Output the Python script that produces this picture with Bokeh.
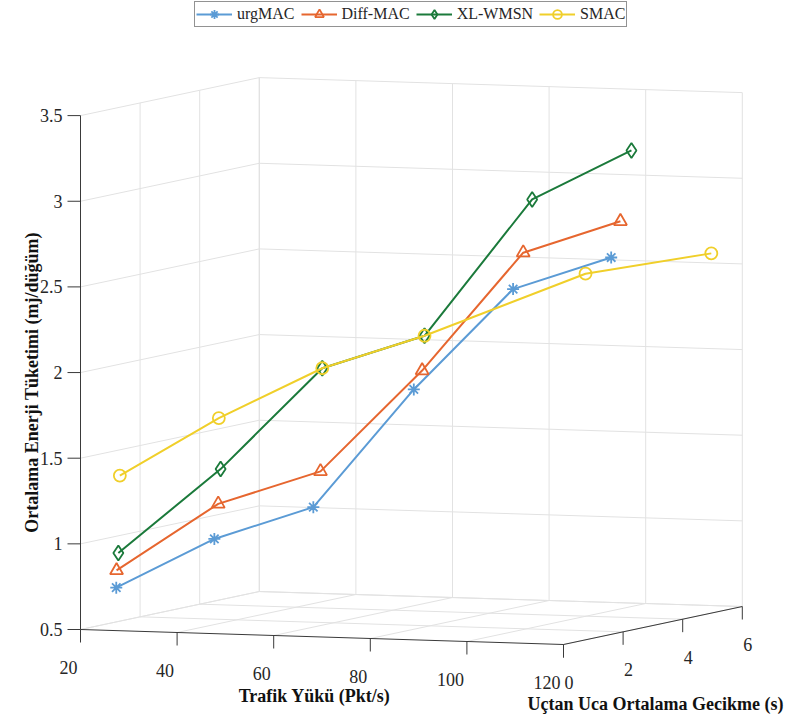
import numpy as np
from bokeh.plotting import figure
from bokeh.models import Range1d, Legend, LegendItem
from bokeh.embed import file_html
from bokeh.resources import INLINE
from bokeh.core.properties import value

# ---------------- data ----------------
series_names = ["urgMAC", "Diff-MAC", "XL-WMSN", "SMAC"]
traffic_load = [20, 40, 60, 80, 100, 120]          # Trafik Yükü (Pkt/s)

delay_urgmac = [1.20, 1.25, 1.33, 1.46, 1.55, 1.60]  # Uçtan Uca Ortalama Gecikme (s)
energy_urgmac = [0.70, 1.00, 1.20, 1.90, 2.50, 2.70]  # Ortalama Enerji Tüketimi (mj/düğüm)

delay_diffmac = [1.21, 1.38, 1.57, 1.74, 1.89, 1.91]
energy_diffmac = [0.80, 1.20, 1.40, 2.00, 2.70, 2.90]

delay_xlwmsn = [1.27, 1.46, 1.63, 1.82, 2.19, 2.28]
energy_xlwmsn = [0.90, 1.40, 2.00, 2.20, 3.00, 3.30]

delay_smac = [1.32, 1.40, 1.63, 1.82, 3.98, 4.96]
energy_smac = [1.35, 1.70, 2.00, 2.20, 2.50, 2.60]

x_ticks = [20, 40, 60, 80, 100, 120]
x_tick_labels = ["20", "40", "60", "80", "100", "120"]
y_ticks = [0, 2, 4, 6]
y_tick_labels = ["0", "2", "4", "6"]
z_ticks = [0.5, 1, 1.5, 2, 2.5, 3, 3.5]
z_tick_labels = ["0.5", "1", "1.5", "2", "2.5", "3", "3.5"]

x_title = "Trafik Yükü (Pkt/s)"
y_title = "Uçtan Uca Ortalama Gecikme (s)"
z_title = "Ortalama Enerji Tüketimi (mj/düğüm)"

# ---------------- styling / view ----------------
colors = ["#5B9BD5", "#E6662F", "#1B7A3B", "#F0CF2A"]
markers = ["asterisk", "triangle", "diamond", "circle"]
msizes = [12, 13, 15, 12]
FONT = "Liberation Serif"
GRID_C = "#e2e2e2"
AXIS_C = "#3a3a3a"
TEXT_C = "#262626"

PAGE_W, PAGE_H = 790, 717
ORIGIN = (80.0, 629.0)      # page px of the corner (xmin, ymin, zmin)
EX = (4.83, 0.15)           # page px per unit of x
EY = (29.8, -6.33)          # page px per unit of y
EZ = (0.0, -171.3)          # page px per unit of z
XMIN, YMIN, ZMIN = x_ticks[0], y_ticks[0], z_ticks[0]
XMAX, YMAX, ZMAX = x_ticks[-1], y_ticks[-1], z_ticks[-1]


def proj(x, y, z):
    x = np.asarray(x, float) - XMIN
    y = np.asarray(y, float) - YMIN
    z = np.asarray(z, float) - ZMIN
    px = ORIGIN[0] + EX[0] * x + EY[0] * y + EZ[0] * z
    py = ORIGIN[1] + EX[1] * x + EY[1] * y + EZ[1] * z
    return px, PAGE_H - py


p = figure(width=PAGE_W, height=PAGE_H, x_range=Range1d(0, PAGE_W), y_range=Range1d(0, PAGE_H),
           output_backend="svg", toolbar_location=None,
           x_axis_location=None, y_axis_location=None, min_border=0,
           outline_line_color=None, background_fill_color="white",
           border_fill_color="white")
p.grid.visible = False

# ---------------- grid ----------------
gx, gy = [], []


def seg(a, b):
    x0, y0 = proj(*a)
    x1, y1 = proj(*b)
    gx.append([float(x0), float(x1)])
    gy.append([float(y0), float(y1)])


for z in z_ticks:
    seg((XMIN, YMIN, z), (XMIN, YMAX, z))      # left wall
    seg((XMIN, YMAX, z), (XMAX, YMAX, z))      # back wall
for y in y_ticks[1:]:
    seg((XMIN, y, ZMIN), (XMIN, y, ZMAX))      # left wall verticals
    seg((XMIN, y, ZMIN), (XMAX, y, ZMIN))      # floor
for x in x_ticks:
    seg((x, YMAX, ZMIN), (x, YMAX, ZMAX))      # back wall verticals
    seg((x, YMIN, ZMIN), (x, YMAX, ZMIN))      # floor

p.multi_line(gx, gy, line_color=GRID_C, line_width=1)

# ---------------- axes ----------------
ax_x, ax_y = [], []
for a, b in [((XMIN, YMIN, ZMIN), (XMAX, YMIN, ZMIN)),
             ((XMAX, YMIN, ZMIN), (XMAX, YMAX, ZMIN)),
             ((XMIN, YMIN, ZMIN), (XMIN, YMIN, ZMAX))]:
    x0, y0 = proj(*a)
    x1, y1 = proj(*b)
    ax_x.append([float(x0), float(x1)])
    ax_y.append([float(y0), float(y1)])
p.multi_line(ax_x, ax_y, line_color=AXIS_C, line_width=1)

TICK = 13
# x ticks (pointing down)
txx, txy = proj(x_ticks, [YMIN] * len(x_ticks), [ZMIN] * len(x_ticks))
p.segment(txx, txy, txx, txy - TICK, line_color=AXIS_C, line_width=1)
p.text(txx - 3, txy - 38, text=x_tick_labels, text_font=value(FONT), text_font_size="18px",
       text_color=TEXT_C, text_align="right", text_baseline="alphabetic")
# y ticks
tyx, tyy = proj([XMAX] * len(y_ticks), y_ticks, [ZMIN] * len(y_ticks))
p.segment(tyx, tyy, tyx, tyy - TICK, line_color=AXIS_C, line_width=1)
p.text(tyx + 1, tyy - 38, text=y_tick_labels, text_font=value(FONT), text_font_size="18px",
       text_color=TEXT_C, text_align="left", text_baseline="alphabetic")
# z ticks (pointing left)
tzx, tzy = proj([XMIN] * len(z_ticks), [YMIN] * len(z_ticks), z_ticks)
p.segment(tzx, tzy, tzx - TICK, tzy, line_color=AXIS_C, line_width=1)
p.text(tzx - 18, tzy, text=z_tick_labels, text_font=value(FONT), text_font_size="18px",
       text_color=TEXT_C, text_align="right", text_baseline="middle")

# ---------------- axis titles ----------------
p.text([314], [PAGE_H - 695], text=[x_title], text_font=value(FONT), text_font_size="18px",
       text_font_style="bold", text_color="#111111", text_align="center",
       text_baseline="alphabetic")
p.text([655], [PAGE_H - 703], text=[y_title], text_font=value(FONT), text_font_size="18px",
       text_font_style="bold", text_color="#111111", text_align="center",
       text_baseline="alphabetic")
p.text([31], [PAGE_H - 382], text=[z_title], text_font=value(FONT), text_font_size="18px",
       text_font_style="bold", text_color="#111111", text_align="center",
       text_baseline="alphabetic", angle=np.pi / 2)

# ---------------- series ----------------
all_delay = [delay_urgmac, delay_diffmac, delay_xlwmsn, delay_smac]
all_energy = [energy_urgmac, energy_diffmac, energy_xlwmsn, energy_smac]
items = []
for name, d, e, c, m, s in zip(series_names, all_delay, all_energy, colors, markers, msizes):
    sx, sy = proj(traffic_load, d, e)
    lr = p.line(sx, sy, line_color=c, line_width=2)
    mr = p.scatter(sx, sy, marker=m, size=s, line_color=c, fill_color=None, line_width=1.8)
    items.append(LegendItem(label=name, renderers=[lr, mr]))

legend = Legend(items=items, orientation="horizontal", location=(194, PAGE_H - 27),
                border_line_color="#262626", border_line_width=1,
                background_fill_color="white", background_fill_alpha=1.0,
                padding=1, spacing=6, label_standoff=5, glyph_width=36,
                glyph_height=22, label_height=22, margin=0,
                label_text_font=FONT, label_text_font_size="16px",
                label_text_color=TEXT_C)
p.add_layout(legend, "center")

open("out.html", "w").write(file_html(p, INLINE))
